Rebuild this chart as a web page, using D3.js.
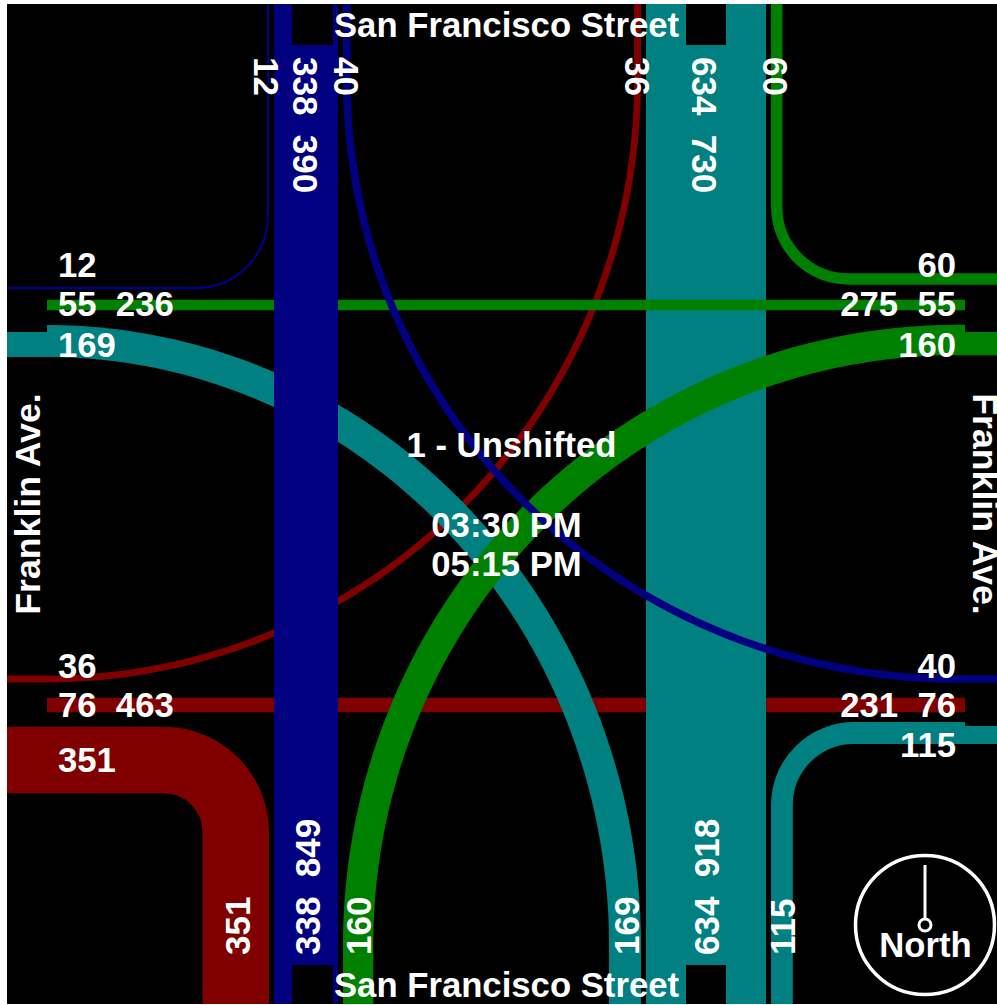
<!DOCTYPE html>
<html>
<head>
<meta charset="utf-8">
<script src="https://cdn.jsdelivr.net/npm/d3@7"></script>
<style>
  html, body { margin: 0; padding: 0; background: #fff; overflow: hidden; }
  svg { display: block; }
  text { font-family: "Liberation Sans", Arial, sans-serif; font-weight: bold; fill: #fff; font-size: 34.7px; white-space: pre; }
  text.street-side { font-size: 35.7px; }
  text.upright-lane { font-size: 35px; }
</style>
</head>
<body>
<svg id="chart"></svg>
<script>
// ----------------------------------
// 1) Volumes
// ----------------------------------
// [right turn, through, left turn, approach total]
const southWestLane = [12, 338, 40, 390];
const southEastLane = [60, 634, 36, 730];
// [right turn, through, left turn, approach total]
const northWestLane = [160, 338, 351, 849];
const northEastLane = [115, 634, 169, 918];
// [through, total]
const westUpper = [55, 236];
const westLower = [76, 463];
const eastUpper = [55, 275];
const eastLower = [76, 231];

const streetNames = ["San Francisco Street", "Franklin Ave."];
const titleLines = ["1 - Unshifted", "03:30 PM", "05:15 PM"];

// ----------------------------------
// 2) Setup SVG and scales
// ----------------------------------
const svg = d3.select("#chart").attr("width", 997).attr("height", 1005);

const x = d3.scaleLinear().domain([0, 1000]).range([7, 1007]);
const y = d3.scaleLinear().domain([0, 1000]).range([4, 1004]);
const w = d3.scaleLinear().domain([0, 338]).range([0, 64]);

const colors = { red: "#800000", teal: "#008080", green: "#008000", blue: "#000080" };
const gap = 5;

svg.append("rect").attr("x", x(0)).attr("y", y(0)).attr("width", 1000).attr("height", 1000).attr("fill", "#000");

// Through bands; the turning lanes stack outside them
const barWest = { x0: x(267), x1: x(267) + w(southWestLane[1]) };
const barEast = { x0: x(639), x1: x(639) + w(southEastLane[1]) };
const leftOf = (bar, v) => bar.x0 - gap - w(v) / 2;
const rightOf = (bar, v) => bar.x1 + gap + w(v) / 2;

const edgeT = y(0), edgeB = y(1000), edgeL = x(0), edgeR = x(1000);
const kneeL = x(40), kneeR = x(950), kneeT = y(76), kneeB = y(941);
const turnR = 72;

// ----------------------------------
// 3) Path helpers
// ----------------------------------
function stroke(d, vol, color) {
  svg.append("path").attr("d", d)
    .attr("fill", "none")
    .attr("stroke", color)
    .attr("stroke-width", w(vol));
}

function throughBar(bar, color) {
  svg.append("rect")
    .attr("x", bar.x0).attr("y", edgeT)
    .attr("width", bar.x1 - bar.x0).attr("height", edgeB - edgeT)
    .attr("fill", color);
}

function rowLine(yRow, vol, color) {
  stroke(`M${edgeL},${yRow}H${edgeR}`, vol, color);
}

// straight - quarter circle - straight
function cornerPath(xEdge, xLane, yEdge, yLane) {
  const p = d3.path();
  p.moveTo(xEdge, yLane);
  p.arcTo(xLane, yLane, xLane, yEdge, turnR);
  p.lineTo(xLane, yEdge);
  return p.toString();
}

// quarter ellipse from a row to a column, with straight stubs out to the edges
function sweepPath(xEdge, xLane, yEdge, yRow, xKnee, yKnee) {
  const pts = [[xEdge, yRow]];
  d3.range(0, 1.0001, 1 / 120).forEach(t => {
    const a = t * Math.PI / 2;
    pts.push([xKnee + (xLane - xKnee) * Math.sin(a), yRow + (yKnee - yRow) * (1 - Math.cos(a))]);
  });
  pts.push([xLane, yEdge]);
  return d3.line()(pts);
}

// ----------------------------------
// 4) Bands, lowest layer first
// ----------------------------------
// Red
rowLine(y(701), westLower[0], colors.red);
stroke(sweepPath(edgeL, leftOf(barEast, southEastLane[2]), edgeT, y(675), kneeL, kneeT), southEastLane[2], colors.red);
stroke(cornerPath(edgeL, leftOf(barWest, northWestLane[2]), edgeB, y(756)), northWestLane[2], colors.red);

// Teal
throughBar(barEast, colors.teal);
stroke(sweepPath(edgeL, leftOf(barEast, northEastLane[2]), edgeB, y(337), kneeL, kneeB), northEastLane[2], colors.teal);
stroke(cornerPath(edgeR, rightOf(barEast, northEastLane[0]), edgeB, y(729)), northEastLane[0], colors.teal);

// Green
rowLine(y(301), westUpper[0], colors.green);
stroke(sweepPath(edgeR, rightOf(barWest, northWestLane[0]), edgeB, y(336), kneeR, kneeB), northWestLane[0], colors.green);
stroke(cornerPath(edgeR, rightOf(barEast, southEastLane[0]), edgeT, y(275)), southEastLane[0], colors.green);

// Blue
throughBar(barWest, colors.blue);
stroke(sweepPath(edgeR, rightOf(barWest, southWestLane[2]), edgeT, y(675), kneeR, kneeT), southWestLane[2], colors.blue);
stroke(cornerPath(edgeL, leftOf(barWest, southWestLane[0]), edgeT, y(284)), southWestLane[0], colors.blue);

// Black blocks at the four approach ends
function block(x0, x1, y0, y1) {
  svg.append("rect").attr("x", x0).attr("y", y0).attr("width", x1 - x0).attr("height", y1 - y0).attr("fill", "#000");
}
[[x(285), x(326)], [x(679), x(719)]].forEach(([x0, x1]) => {
  block(x0, x1, edgeT, y(41));
  block(x0, x1, y(961), edgeB);
});
[y(287), y(681)].forEach(y0 => {
  block(edgeL, x(40), y0, y0 + 41);
  block(x(958), edgeR, y0, y0 + 41);
});

// ----------------------------------
// 5) Labels
// ----------------------------------
function label(str, px, py, anchor, rotate) {
  return svg.append("text")
    .attr("text-anchor", anchor || "start")
    .attr("class", rotate ? "upright-lane" : null)
    .attr("transform", `translate(${px},${py})` + (rotate ? ` rotate(${rotate})` : ""))
    .text(str);
}
const pair = (a, b) => `${a}  ${b}`;

// West leg
label(southWestLane[0], 58, 277);
label(pair(westUpper[0], westUpper[1]), 58, 316);
label(northEastLane[2], 58, 357);
label(southEastLane[2], 58, 678);
label(pair(westLower[0], westLower[1]), 58, 717);
label(northWestLane[2], 58, 772);

// East leg
label(southEastLane[0], 956, 277, "end");
label(pair(eastUpper[1], eastUpper[0]), 956, 316, "end");
label(northWestLane[0], 956, 357, "end");
label(southWestLane[2], 956, 678, "end");
label(pair(eastLower[1], eastLower[0]), 956, 717, "end");
label(northEastLane[0], 956, 757, "end");

// North leg, reading downward
label(southWestLane[0], 254, 57, "start", 90);
label(pair(southWestLane[1], southWestLane[3]), 293, 57, "start", 90);
label(southWestLane[2], 334, 57, "start", 90);
label(southEastLane[2], 625, 57, "start", 90);
label(pair(southEastLane[1], southEastLane[3]), 692, 57, "start", 90);
label(southEastLane[0], 763, 57, "start", 90);

// South leg, reading upward
label(northWestLane[2], 250, 955, "start", -90);
label(pair(northWestLane[1], northWestLane[3]), 320, 955, "start", -90);
label(northWestLane[0], 371, 955, "start", -90);
label(northEastLane[2], 639, 955, "start", -90);
label(pair(northEastLane[1], northEastLane[3]), 719, 955, "start", -90);
label(northEastLane[0], 795, 955, "start", -90);

// Street names and title block
label(streetNames[0], 506.5, 37, "middle");
label(streetNames[0], 506.5, 997, "middle");
label(streetNames[1], 39.5, 504, "middle", -90).attr("class", "street-side");
label(streetNames[1], 972.5, 504, "middle", 90).attr("class", "street-side");
label(titleLines[0], 511.5, 457, "middle");
label(titleLines[1], 506.5, 537, "middle");
label(titleLines[2], 506.5, 576, "middle");

// North arrow
const compass = svg.append("g").attr("fill", "none").attr("stroke", "#fff").attr("stroke-width", 3.5);
compass.append("circle").attr("cx", 925).attr("cy", 925).attr("r", 69.5);
compass.append("line").attr("x1", 925).attr("x2", 925).attr("y1", 865).attr("y2", 919).attr("stroke-width", 3);
compass.append("circle").attr("cx", 925).attr("cy", 925).attr("r", 6).attr("stroke-width", 3);
label("North", 925.5, 957, "middle");
</script>
</body>
</html>
